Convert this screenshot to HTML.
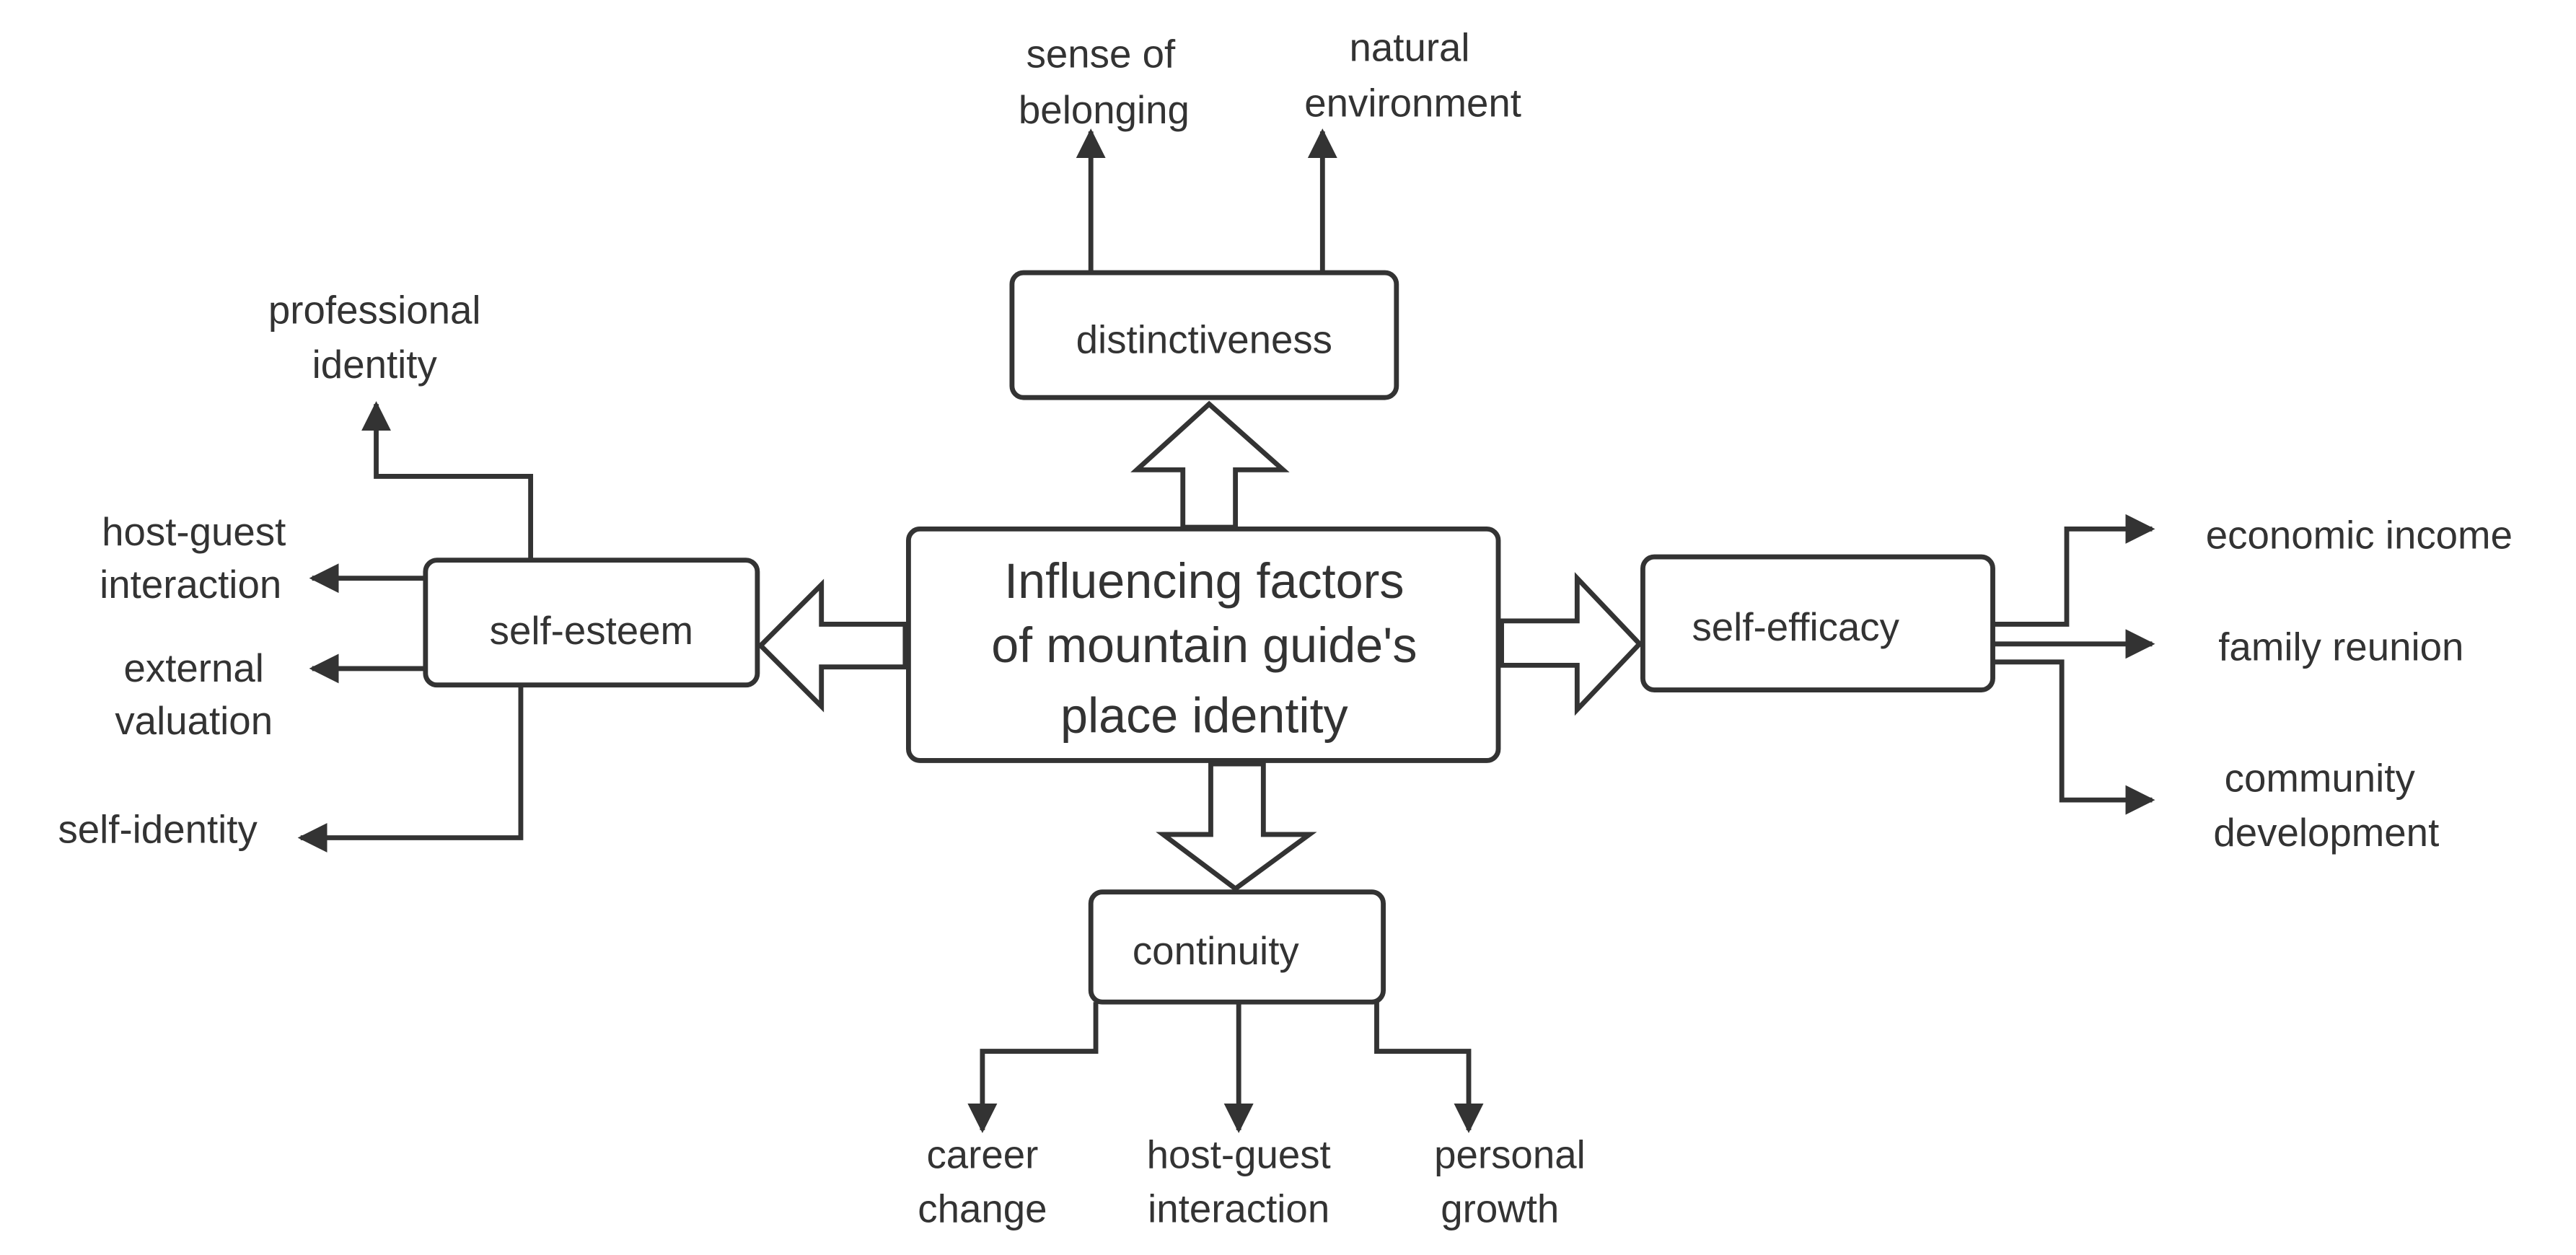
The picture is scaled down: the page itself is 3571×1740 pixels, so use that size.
<!DOCTYPE html>
<html><head><meta charset="utf-8"><style>
html,body{margin:0;padding:0;background:#fff;}
svg{display:block;}
text{font-family:"Liberation Sans","DejaVu Sans",sans-serif;fill:#333;}
</style></head><body>
<svg width="3571" height="1740" viewBox="0 0 1568 764" xmlns="http://www.w3.org/2000/svg">
<defs>
<marker id="ah" viewBox="0 0 10 10" refX="9" refY="5" markerWidth="6" markerHeight="6" markerUnits="strokeWidth" orient="auto">
<path d="M0,0 L10,5 L0,10 z" fill="#333"/>
</marker>
</defs>
<g fill="#fff" stroke="#333" stroke-width="3" stroke-linejoin="miter">
<!-- boxes -->
<rect x="616" y="166" width="234" height="76" rx="7"/>
<rect x="553" y="322" width="359" height="141" rx="7"/>
<rect x="259" y="341" width="202" height="76" rx="7"/>
<rect x="1000" y="339" width="213" height="81" rx="7"/>
<rect x="664" y="543" width="178" height="67" rx="7"/>
<!-- hollow arrows -->
<polygon points="720,321 720,286 692,286 736,246 781,286 752,286 752,321"/>
<polygon points="551,380 500,380 500,356 463,393 500,430 500,406 551,406"/>
<polygon points="914,378 960,378 960,352 998,392 960,432 960,405 914,405"/>
<polygon points="737,465 737,508 708,508 752,541 797,508 769,508 769,465"/>
</g>
<g fill="none" stroke="#333" stroke-width="3" marker-end="url(#ah)">
<path d="M664,166 V80"/>
<path d="M805,166 V80"/>
<path d="M323,341 V290 H229 V246"/>
<path d="M259,352 H190"/>
<path d="M259,407 H190"/>
<path d="M317,417 V510 H183"/>
<path d="M1213,380 H1258 V322 H1310"/>
<path d="M1213,392 H1310"/>
<path d="M1213,403 H1255 V487 H1310"/>
<path d="M667,610 V640 H598 V688"/>
<path d="M754,610 V688"/>
<path d="M838,610 V640 H894 V688"/>
</g>
<g font-size="24" text-anchor="middle">
<text x="733" y="215">distinctiveness</text>
<text x="360" y="392">self-esteem</text>
<text x="1093" y="390">self-efficacy</text>
<text x="740" y="587">continuity</text>
<text x="670" y="41">sense of</text>
<text x="672" y="75">belonging</text>
<text x="858" y="37">natural</text>
<text x="860" y="71">environment</text>
<text x="228" y="197">professional</text>
<text x="228" y="230">identity</text>
<text x="118" y="332">host-guest</text>
<text x="116" y="364">interaction</text>
<text x="118" y="415">external</text>
<text x="118" y="447">valuation</text>
<text x="96" y="513">self-identity</text>
<text x="1436" y="334">economic income</text>
<text x="1425" y="402">family reunion</text>
<text x="1412" y="482">community</text>
<text x="1416" y="515">development</text>
<text x="598" y="711">career</text>
<text x="598" y="744">change</text>
<text x="754" y="711">host-guest</text>
<text x="754" y="744">interaction</text>
<text x="919" y="711">personal</text>
<text x="913" y="744">growth</text>
</g>
<g font-size="30" text-anchor="middle">
<text x="733" y="364">Influencing factors</text>
<text x="733" y="403">of mountain guide's</text>
<text x="733" y="446">place identity</text>
</g>
</svg>
</body></html>
